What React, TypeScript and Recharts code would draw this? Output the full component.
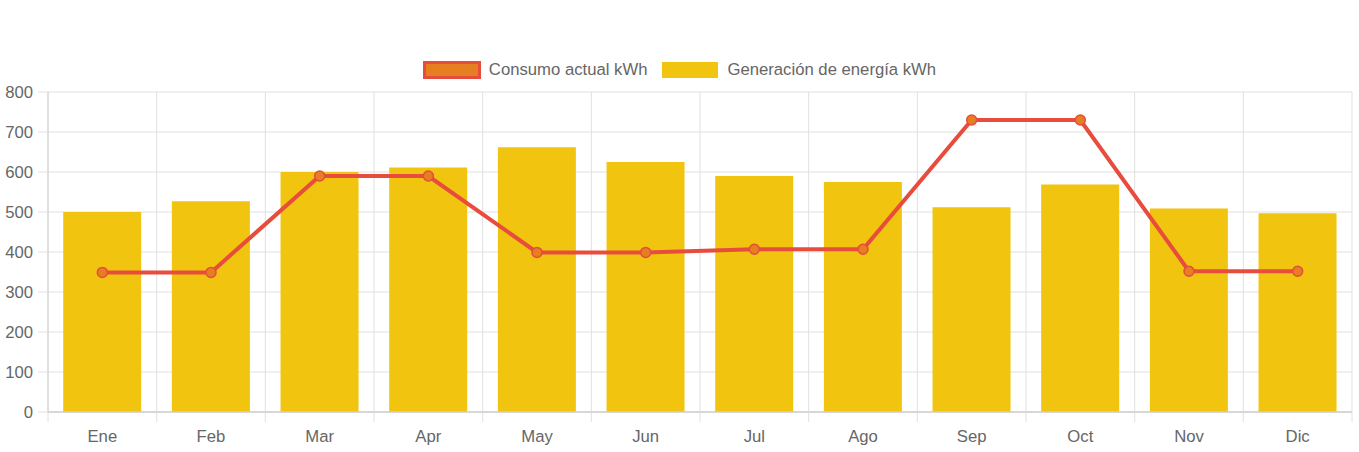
import React from "react";
import { ComposedChart, Bar, Line, XAxis, YAxis, CartesianGrid, Legend } from "recharts";

const months = ["Ene", "Feb", "Mar", "Apr", "May", "Jun", "Jul", "Ago", "Sep", "Oct", "Nov", "Dic"];
const consumo = [349, 349, 590, 590, 399, 399, 407, 407, 730, 730, 352, 352];
const generacion = [500, 527, 600, 611, 662, 625, 590, 575, 512, 569, 509, 497];
const yTicks = [0, 100, 200, 300, 400, 500, 600, 700, 800];

const seriesNames = { consumo: "Consumo actual kWh", generacion: "Generación de energía kWh" };

const data = months.map((m, i) => ({ month: m, consumo: consumo[i], generacion: generacion[i] }));

const FONT = "'Liberation Sans', Arial, Helvetica, sans-serif";
const TEXT = "#666";
const GRID = "#e0e0e0";

function ChartLegend() {
  return (
    <div style={{ display: "flex", justifyContent: "center", alignItems: "center", height: 24, fontFamily: FONT, fontSize: 16.7, color: TEXT }}>
      <svg width={58} height={18} style={{ display: "block" }}>
        <rect x={1.5} y={1.5} width={55} height={15} fill="#e67e22" stroke="#e74c3c" strokeWidth={3} />
      </svg>
      <span style={{ marginLeft: 8, marginRight: 15 }}>{seriesNames.consumo}</span>
      <svg width={56} height={16} style={{ display: "block" }}>
        <rect x={0} y={0} width={56} height={16} fill="#f1c40f" />
      </svg>
      <span style={{ marginLeft: 9 }}>{seriesNames.generacion}</span>
    </div>
  );
}

// category label plus Chart.js-style tick marks at band edges
function MonthTick(props: any) {
  const { x, y, payload, width, visibleTicksCount, index } = props;
  const band = width / visibleTicksCount;
  return (
    <g>
      <line x1={x - band / 2} x2={x - band / 2} y1={y} y2={y + 10} stroke={GRID} />
      {index === visibleTicksCount - 1 && (
        <line x1={x + band / 2} x2={x + band / 2} y1={y} y2={y + 10} stroke={GRID} />
      )}
      <text x={x} y={y + 30} textAnchor="middle" fill={TEXT} fontSize={16.7} fontFamily={FONT}>
        {payload.value}
      </text>
    </g>
  );
}

export default function App() {
  return (
    <div style={{ position: "absolute", left: 0, top: 0, width: 1359, height: 452, background: "#fff" }}>
      <ComposedChart width={1359} height={452} data={data} margin={{ top: 68, right: 7, bottom: 0, left: 0 }} barCategoryGap="14%">
        <Legend
          verticalAlign="top"
          align="center"
          content={() => <ChartLegend />}
          wrapperStyle={{ top: 58, left: 0, width: 1359, height: 24 }}
        />
        <CartesianGrid
          stroke={GRID}
          verticalCoordinatesGenerator={({ offset }: any) =>
            Array.from({ length: months.length + 1 }, (_, i) => offset.left + (i * offset.width) / months.length)
          }
        />
        <XAxis
          dataKey="month"
          height={40}
          tickLine={false}
          tickSize={0}
          tickMargin={0}
          interval={0}
          axisLine={{ stroke: "#cfcfcf", strokeWidth: 1.5 }}
          tick={<MonthTick />}
        />
        <YAxis
          domain={[0, 800]}
          ticks={yTicks}
          width={48}
          tickSize={10}
          tickMargin={5}
          tickLine={{ stroke: GRID }}
          axisLine={{ stroke: "#d0d0d0" }}
          tick={{ fill: TEXT, fontSize: 16.7, fontFamily: FONT }}
        />
        <Bar dataKey="generacion" name={seriesNames.generacion} fill="#f1c40f" isAnimationActive={false} />
        <Line
          dataKey="consumo"
          name={seriesNames.consumo}
          type="linear"
          stroke="#e74c3c"
          strokeWidth={4}
          dot={{ r: 5, fill: "#e67e22", stroke: "#e74c3c", strokeWidth: 1.5 }}
          activeDot={false}
          isAnimationActive={false}
        />
      </ComposedChart>
    </div>
  );
}
